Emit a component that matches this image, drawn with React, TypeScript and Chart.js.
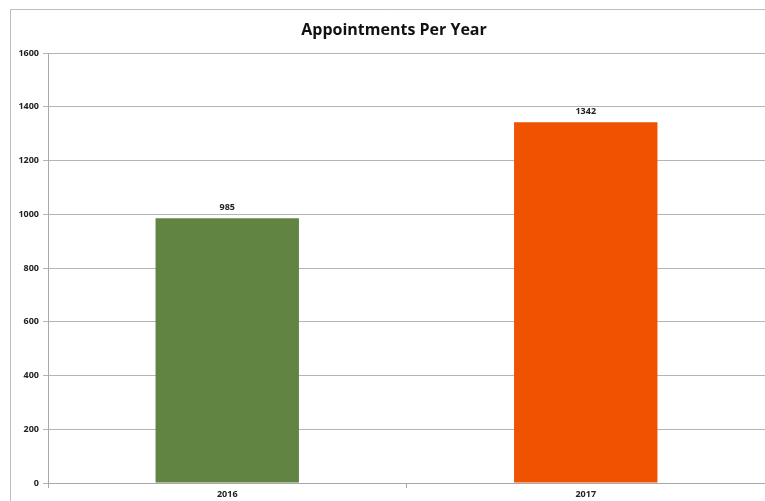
import React, { useEffect, useRef } from "react";
import { Chart, registerables } from "chart.js";

Chart.register(...registerables);

const categories = ["2016", "2017"];
const appointments = [985, 1342];
const barColors = ["#618442", "#ef5200"];
const titleText = "Appointments Per Year";
const yTicksMax = 1600;
const yStep = 200;

const FONT = "'Open Sans', 'Liberation Sans', sans-serif";

const framePlugin = {
  id: "frameAndLabels",
  beforeDraw(chart: any) {
    const { ctx } = chart;
    ctx.save();
    ctx.fillStyle = "#ffffff";
    ctx.fillRect(0, 0, chart.width, chart.height);
    ctx.strokeStyle = "#bdbdbd";
    ctx.lineWidth = 1;
    ctx.beginPath();
    ctx.moveTo(10.5, chart.height + 5);
    ctx.lineTo(10.5, 9.5);
    ctx.lineTo(chart.width + 5, 9.5);
    ctx.stroke();
    ctx.fillStyle = "#111111";
    ctx.font = `bold 16px ${FONT}`;
    ctx.textAlign = "center";
    ctx.textBaseline = "middle";
    ctx.fillText(titleText, 394, 30);
    ctx.restore();
  },
  afterDatasetsDraw(chart: any) {
    const { ctx } = chart;
    const meta = chart.getDatasetMeta(0);
    ctx.save();
    ctx.fillStyle = "#222222";
    ctx.font = `bold 9px ${FONT}`;
    ctx.textAlign = "center";
    ctx.textBaseline = "bottom";
    meta.data.forEach((bar: any, i: number) => {
      ctx.fillText(String(appointments[i]), bar.x, bar.y - 6);
    });
    ctx.restore();
  },
};

export default function App() {
  const ref = useRef<HTMLCanvasElement>(null);
  useEffect(() => {
    if (!ref.current) return;
    const chart = new Chart(ref.current, {
      type: "bar",
      data: {
        labels: categories,
        datasets: [
          {
            data: appointments,
            backgroundColor: barColors,
            borderWidth: 0,
            categoryPercentage: 1,
            barPercentage: 0.4,
          },
        ],
      },
      options: {
        animation: false,
        responsive: false,
        maintainAspectRatio: false,
        layout: { padding: { top: 53, left: 0, right: -3, bottom: 0 } },
        plugins: {
          legend: { display: false },
          title: { display: false },
          tooltip: { enabled: false },
        },
        scales: {
          x: {
            offset: true,
            grid: {
              display: true,
              offset: true,
              drawOnChartArea: false,
              tickLength: 5,
              color: "#a8a8a8",
            },
            border: { display: true, color: "#a8a8a8" },
            ticks: {
              color: "#222222",
              font: { family: FONT, size: 9, weight: "bold" },
              padding: 1,
            },
            afterFit(scale: any) {
              scale.height = 18;
            },
          },
          y: {
            min: 0,
            max: yTicksMax,
            ticks: {
              stepSize: yStep,
              color: "#222222",
              font: { family: FONT, size: 9, weight: "bold" },
              padding: 4,
              callback: (v: any) => String(v),
            },
            grid: { color: "#b4b4b4", tickLength: 5 },
            border: { display: true, color: "#a8a8a8" },
            afterFit(scale: any) {
              scale.width = 48;
            },
          },
        },
      },
      plugins: [framePlugin],
    });
    return () => chart.destroy();
  }, []);
  return (
    <div style={{ position: "fixed", left: 0, top: 0, width: 765, height: 501, background: "#fff" }}>
      <canvas ref={ref} width={765} height={501} style={{ width: 765, height: 501, display: "block" }} />
    </div>
  );
}
